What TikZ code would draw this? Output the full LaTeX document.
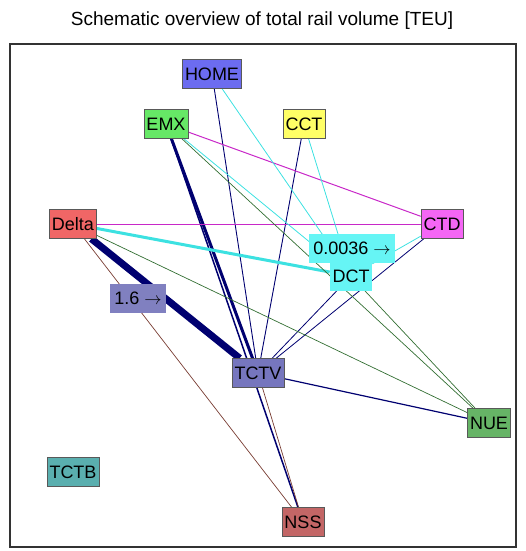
\documentclass[tikz,border=0pt]{standalone}
\usepackage{fontspec}
\setmainfont{Liberation Sans}
\usetikzlibrary{backgrounds}

\definecolor{corHome}{RGB}{108,108,240}
\definecolor{corEmx}{RGB}{102,232,102}
\definecolor{corCct}{RGB}{255,255,102}
\definecolor{corDelta}{RGB}{240,102,102}
\definecolor{corCtd}{RGB}{245,102,245}
\definecolor{corDct}{RGB}{102,245,245}
\definecolor{corTctv}{RGB}{118,118,190}
\definecolor{corNue}{RGB}{102,180,102}
\definecolor{corTctb}{RGB}{90,175,175}
\definecolor{corNss}{RGB}{195,102,102}
\definecolor{corRotulo}{RGB}{128,128,192}
\definecolor{linhaAzul}{RGB}{0,0,112}
\definecolor{linhaMag}{RGB}{200,40,200}
\definecolor{linhaCia}{RGB}{60,225,225}
\definecolor{linhaVerde}{RGB}{50,110,50}
\definecolor{linhaMarrom}{RGB}{120,60,50}

\begin{document}
\begin{tikzpicture}[x=1pt,y=-1pt,font=\fontsize{18}{20}\selectfont,
	caixa/.style={draw=black!65, line width=0.6pt, inner xsep=2.5pt, inner ysep=0pt, minimum height=29pt},
	rotulo/.style={inner xsep=4pt, inner ysep=0pt, minimum height=29pt}]
	
	\useasboundingbox (0,0) rectangle (525,551);
	\node (titulo) at (262,21) {\fontsize{19}{21}\selectfont Schematic overview of total rail volume [TEU]};
	\draw[black!80, line width=1.2pt] (10,44) rectangle (516,547);
	
	% terminais
	\node[caixa, fill=corHome] (home) at (212,74) {HOME};
	\node[caixa, fill=corEmx] (emx) at (166,124) {EMX};
	\node[caixa, fill=corCct] (cct) at (304,124) {CCT};
	\node[caixa, fill=corDelta] (delta) at (73,224) {Delta};
	\node[caixa, fill=corCtd] (ctd) at (442,224) {CTD};
	\node[caixa, fill=corDct, draw=none] (dct) at (351,276) {DCT};
	\node[caixa, fill=corTctv] (tctv) at (258,373) {TCTV};
	\node[caixa, fill=corNue] (nue) at (489,423) {NUE};
	\node[caixa, fill=corTctb] (tctb) at (73,472) {TCTB};
	\node[caixa, fill=corNss] (nss) at (303,522) {NSS};
	
	\node[rotulo, fill=corRotulo] (fluxoa) at (138,298) {1.6 $\rightarrow$};
	\node[rotulo, fill=corDct] (fluxob) at (352,248) {0.0036 $\rightarrow$};
	
	\begin{scope}[on background layer]
		\draw[linhaAzul, line width=7pt] (delta) -- (tctv);
		\draw[linhaAzul, line width=3pt] (emx) -- (tctv);
		\draw[linhaAzul, line width=1.5pt] (emx) -- (nss);
		\draw[linhaAzul, line width=0.9pt] (home) -- (tctv);
		\draw[linhaAzul, line width=0.9pt] (cct) -- (tctv);
		\draw[linhaAzul, line width=0.8pt] (dct) -- (tctv);
		\draw[linhaAzul, line width=0.8pt] (ctd) -- (tctv);
		\draw[linhaAzul, line width=1.2pt] (tctv) -- (nue);
		\draw[linhaMarrom, line width=0.7pt] (tctv) -- (nss);
		\draw[linhaMarrom, line width=0.7pt] (delta) -- (nss);
		
		\draw[linhaMag, line width=1pt] (delta) -- (ctd);
		\draw[linhaMag, line width=1pt] (emx) -- (ctd);
		
		\draw[linhaCia, line width=3pt] (delta) -- (dct);
		\draw[linhaCia, line width=0.8pt] (home) -- (dct);
		\draw[linhaCia, line width=0.8pt] (cct) -- (dct);
		\draw[linhaCia, line width=0.8pt] (emx) -- (dct);
		\draw[linhaCia, line width=0.8pt] (ctd) -- (dct);
		
		\draw[linhaVerde, line width=0.7pt] (delta) -- (nue);
		\draw[linhaVerde, line width=0.7pt] (emx) -- (nue);
		\draw[linhaVerde, line width=0.7pt] (dct) -- (nue);
	\end{scope}
	
\end{tikzpicture}
\end{document}
